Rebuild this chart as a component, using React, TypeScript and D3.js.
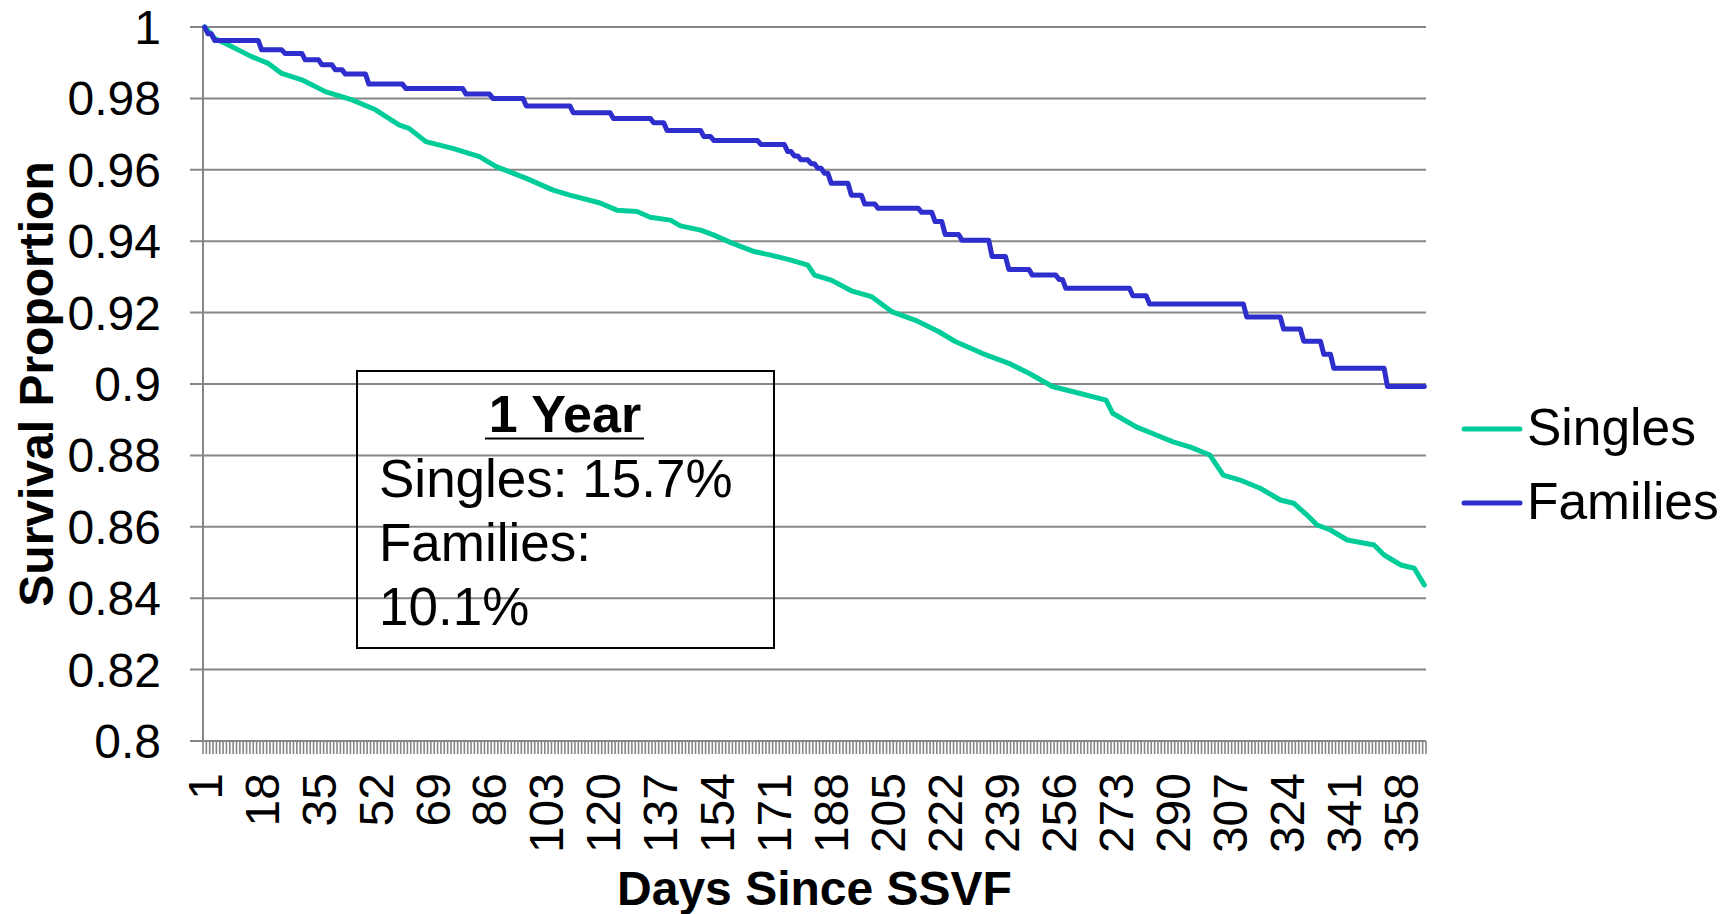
import React from "react";
import * as d3 from "d3";

// ---- data ----
const dayCount = 365;
const days = d3.range(1, dayCount + 1);
const tickLabelDays = d3.range(1, dayCount + 1, 17);
const yTicks = [0.8, 0.82, 0.84, 0.86, 0.88, 0.9, 0.92, 0.94, 0.96, 0.98, 1];

// Singles: sampled survival values
const singlesDays = [1, 4, 8, 15, 20, 24, 30, 37, 45, 52, 59, 62, 67, 75, 83, 88, 97, 105, 110, 119, 124, 130, 134, 140, 143, 149, 153, 158, 165, 170, 176, 181, 183, 188, 194, 200, 206, 213, 220, 225, 233, 241, 247, 254, 262, 270, 272, 279, 285, 290, 295, 301, 305, 310, 316, 322, 326, 330, 333, 337, 342, 350, 353, 358, 362, 365];
const singlesValues = [1.0, 0.9968, 0.995, 0.9917, 0.9898, 0.987, 0.9852, 0.9819, 0.9796, 0.9768, 0.9726, 0.9716, 0.9679, 0.966, 0.9637, 0.9609, 0.9576, 0.9543, 0.9529, 0.9507, 0.9487, 0.9483, 0.9467, 0.9459, 0.9443, 0.9431, 0.9417, 0.9396, 0.9371, 0.9361, 0.9347, 0.9333, 0.9305, 0.9291, 0.9261, 0.9245, 0.9203, 0.9179, 0.9147, 0.9119, 0.9086, 0.9058, 0.903, 0.8993, 0.8974, 0.8955, 0.8918, 0.888, 0.8857, 0.8838, 0.8824, 0.8801, 0.8745, 0.8731, 0.8708, 0.8675, 0.8666, 0.8633, 0.8605, 0.8591, 0.8563, 0.8549, 0.8521, 0.8493, 0.8484, 0.8437];

// Families: step function (day on which new level begins, level)
const familiesStepDays = [1, 2, 4, 18, 25, 31, 36, 40, 43, 50, 61, 79, 87, 97, 111, 123, 135, 139, 150, 153, 167, 175, 177, 179, 182, 184, 186, 188, 194, 198, 202, 215, 219, 222, 227, 236, 241, 248, 256, 258, 278, 283, 312, 323, 329, 335, 338, 354];
const familiesLevels = [1.0, 0.9981, 0.9962, 0.9936, 0.9926, 0.9908, 0.9894, 0.988, 0.9868, 0.984, 0.9828, 0.9812, 0.98, 0.9779, 0.976, 0.9744, 0.9732, 0.971, 0.9693, 0.9682, 0.9671, 0.9651, 0.9639, 0.9628, 0.9617, 0.9604, 0.959, 0.9562, 0.9529, 0.9504, 0.9492, 0.9481, 0.9455, 0.9419, 0.9403, 0.9357, 0.9321, 0.9305, 0.9293, 0.9268, 0.9247, 0.9224, 0.9188, 0.9154, 0.912, 0.9083, 0.9044, 0.8993];

const seriesNames = ["Singles", "Families"];
const seriesColors = ["#00CC99", "#2E2ECC"];
const boxTitle = "1 Year";
const boxLines = ["Singles: 15.7%", "Families:", "10.1%"];

const W = 1732;
const H = 914;
const M = { left: 203, right: 1426, top: 27, bottom: 741 };
const FONT = "'Liberation Sans', Arial, Helvetica, sans-serif";
const GRID = "#868686";

export default function App() {
  const x = d3.scaleBand<number>().domain(days).range([M.left, M.right]).padding(0);
  const y = d3.scaleLinear().domain([0.8, 1]).range([M.bottom, M.top]);
  const cx = (d: number) => (x(d) as number) + x.bandwidth() / 2;

  const line = d3
    .line<[number, number]>()
    .x((p) => cx(p[0]))
    .y((p) => y(p[1]));

  const singlesPts: [number, number][] = singlesDays.map((d, i) => [d, singlesValues[i]]);

  const familiesPts: [number, number][] = [];
  familiesStepDays.forEach((d, i) => {
    const end = i + 1 < familiesStepDays.length ? familiesStepDays[i + 1] - 1 : dayCount;
    familiesPts.push([d, familiesLevels[i]]);
    if (end > d) familiesPts.push([end, familiesLevels[i]]);
  });

  const boundaries = d3.range(0, dayCount + 1).map((i) => M.left + i * x.bandwidth());

  return (
    <svg
      width={W}
      height={H}
      style={{ position: "absolute", left: 0, top: 0, background: "#fff" }}
      fontFamily={FONT}
    >
      <rect x={0} y={0} width={W} height={H} fill="#fff" />
      {/* gridlines + y ticks */}
      {yTicks.map((t) => (
        <line key={"g" + t} x1={M.left - 13} x2={M.right} y1={y(t)} y2={y(t)} stroke={GRID} strokeWidth={2} />
      ))}
      {/* y axis */}
      <line x1={M.left} x2={M.left} y1={M.top} y2={M.bottom} stroke={GRID} strokeWidth={2} />
      {/* x ticks */}
      {boundaries.map((bx, i) => (
        <line key={"t" + i} x1={bx} x2={bx} y1={M.bottom} y2={M.bottom + 13} stroke={GRID} strokeWidth={1.6} />
      ))}
      {/* y labels */}
      {yTicks.map((t) => (
        <text key={"yl" + t} x={161} y={y(t) + 17} textAnchor="end" fontSize={48} fill="#000">
          {d3.format("")(+t.toFixed(2))}
        </text>
      ))}
      {/* x labels */}
      {tickLabelDays.map((d) => (
        <text
          key={"xl" + d}
          transform={`translate(${cx(d) + 17},773) rotate(-90)`}
          textAnchor="end"
          fontSize={48}
          fill="#000"
        >
          {d}
        </text>
      ))}
      {/* axis titles */}
      <text transform={`translate(53,${(M.top + M.bottom) / 2}) rotate(-90)`} textAnchor="middle" fontSize={48} fontWeight="bold">
        Survival Proportion
      </text>
      <text x={(M.left + M.right) / 2} y={905} textAnchor="middle" fontSize={48} fontWeight="bold">
        Days Since SSVF
      </text>
      {/* annotation box */}
      <rect x={357} y={371} width={417} height={277} fill="none" stroke="#000" strokeWidth={2} />
      <text x={565} y={432} textAnchor="middle" fontSize={52} fontWeight="bold">
        {boxTitle}
      </text>
      <line x1={485} x2={644} y1={438.5} y2={438.5} stroke="#000" strokeWidth={2} />
      {boxLines.map((s, i) => (
        <text key={s} x={379} y={497 + i * 64} fontSize={53}>
          {s}
        </text>
      ))}
      {/* series */}
      <path d={line(singlesPts) || ""} fill="none" stroke={seriesColors[0]} strokeWidth={5} strokeLinejoin="round" strokeLinecap="round" />
      <path d={line(familiesPts) || ""} fill="none" stroke={seriesColors[1]} strokeWidth={5} strokeLinejoin="round" strokeLinecap="round" />
      {/* legend */}
      {seriesNames.map((n, i) => (
        <g key={n}>
          <line x1={1464} x2={1520} y1={429 + i * 74} y2={429 + i * 74} stroke={seriesColors[i]} strokeWidth={5} strokeLinecap="round" />
          <text x={1527} y={429 + i * 74 + 16} fontSize={51.5}>
            {n}
          </text>
        </g>
      ))}
    </svg>
  );
}
